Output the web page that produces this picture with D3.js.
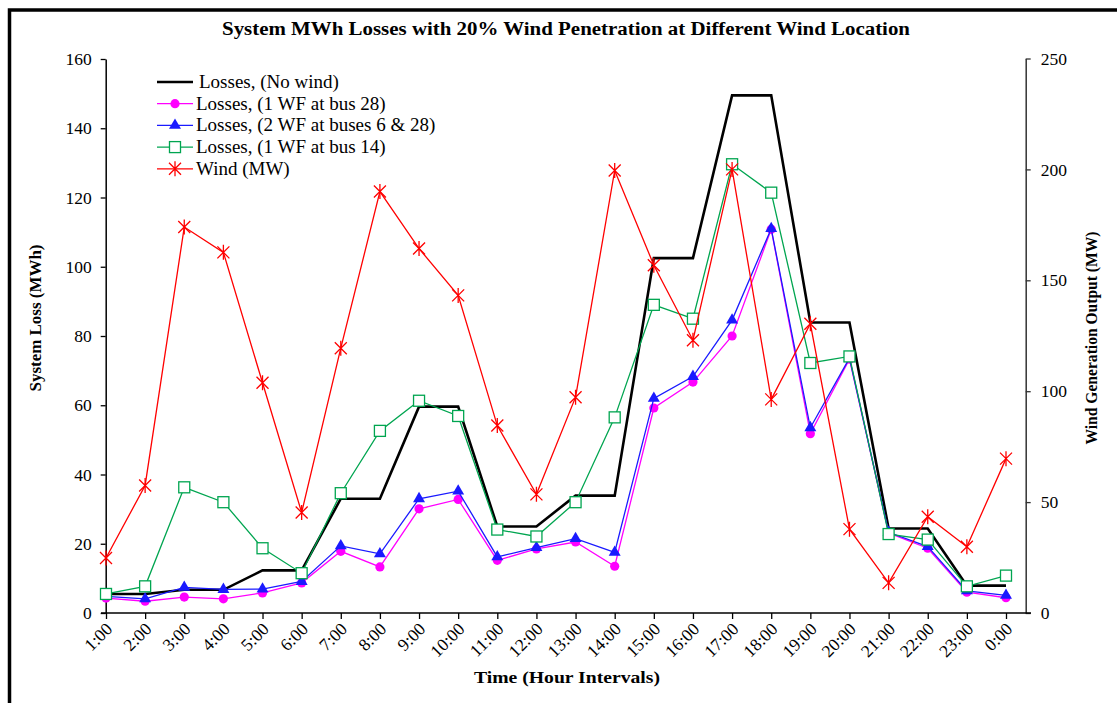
<!DOCTYPE html>
<html>
<head>
<meta charset="utf-8">
<script src="https://cdn.jsdelivr.net/npm/d3@7"></script>
<style>
  body { margin: 0; background: #fff; }
  svg { display: block; }
  text { font-family: "Liberation Serif", "Times New Roman", serif; }
</style>
</head>
<body>
<svg id="chart" width="1117" height="703"></svg>
<script>
// data
var hours = ["1:00","2:00","3:00","4:00","5:00","6:00","7:00","8:00","9:00","10:00","11:00","12:00",
             "13:00","14:00","15:00","16:00","17:00","18:00","19:00","20:00","21:00","22:00","23:00","0:00"];
var lossNoWind = [5.5,5.5,6.7,6.7,12.3,12.3,33,33,59.6,59.6,25,25,33.9,33.9,102.5,102.5,149.5,149.5,83.9,83.9,24.4,24.4,7.9,7.9];
var lossBus28  = [4.3,3.4,4.6,4.1,5.8,8.7,17.8,13.3,30.1,32.8,15.2,18.5,20.5,13.5,59.2,66.7,80,110.8,51.8,73.3,23.1,18.7,6,4.4];
var lossBus628 = [4.8,4.1,7.4,6.8,6.9,9.1,19.4,17.1,33,35.2,16.2,18.9,21.5,17.5,62,68.3,84.6,111,53.5,73.6,23.3,19.2,6.4,5.1];
var lossBus14  = [5.5,7.7,36.3,32,18.7,11.5,34.6,52.6,61.3,56.9,24.1,22.1,32,56.5,89,85,129.6,121.4,72.2,74.1,22.8,21.2,7.7,10.8];
var windMW     = [24.8,57.5,174,162.6,103.8,45.3,119.4,190,164.3,143.2,84.5,53.5,97.3,199.5,156.8,123,200,96.3,130.4,37.8,13.6,43.4,29.9,69.6];
var leftTicks  = [0,20,40,60,80,100,120,140,160];
var rightTicks = [0,50,100,150,200,250];

var svg = d3.select("#chart");

// outer frame (only left and top edges show)
svg.append("path").attr("d", "M9.5,703 L9.5,10 L1117,10")
   .attr("fill", "none").attr("stroke", "#000").attr("stroke-width", 3.5);

var x = d3.scalePoint().domain(hours).range([106, 1006]);
var yL = d3.scaleLinear().domain([0, 160]).range([613, 59]);
var yR = d3.scaleLinear().domain([0, 250]).range([613, 58.5]);

// title
svg.append("text").attr("x", 566).attr("y", 35).attr("text-anchor", "middle")
   .attr("font-size", 18).attr("font-weight", "bold")
   .attr("textLength", 688).attr("lengthAdjust", "spacingAndGlyphs")
   .text("System MWh Losses with 20% Wind Penetration at Different Wind Location");

// left axis
var gL = svg.append("g").attr("transform", "translate(105.7,0)")
  .call(d3.axisLeft(yL).tickValues(leftTicks).tickSize(5).tickSizeOuter(0).tickPadding(9));
gL.select(".domain").attr("stroke", "#000").attr("stroke-width", 1.5);
gL.selectAll(".tick line").attr("stroke", "#000").attr("stroke-width", 1.3);
gL.selectAll(".tick text").attr("font-family", "Liberation Serif").attr("font-size", 17.5).attr("fill", "#000");

// right axis
var gR = svg.append("g").attr("transform", "translate(1025.7,0)")
  .call(d3.axisRight(yR).tickValues(rightTicks).tickSize(5).tickSizeOuter(0).tickPadding(10));
gR.select(".domain").attr("stroke", "#333").attr("stroke-width", 1.5);
gR.selectAll(".tick line").attr("stroke", "#333").attr("stroke-width", 1.3);
gR.selectAll(".tick text").attr("font-family", "Liberation Serif").attr("font-size", 17.5).attr("fill", "#000");

// bottom axis
svg.append("line").attr("x1", 101).attr("x2", 1031).attr("y1", 613).attr("y2", 613)
   .attr("stroke", "#000").attr("stroke-width", 1.6);
var gB = svg.append("g").attr("transform", "translate(0,613)")
  .call(d3.axisBottom(x).tickSize(6).tickSizeOuter(0));
gB.select(".domain").remove();
gB.selectAll(".tick line").attr("stroke", "#000").attr("stroke-width", 1.3);
gB.selectAll(".tick text")
  .attr("font-family", "Liberation Serif").attr("font-size", 17.5).attr("fill", "#000")
  .attr("text-anchor", "end").attr("dy", null).attr("y", 0)
  .attr("transform", "translate(7,17) rotate(-45)");

// axis titles
svg.append("text").attr("x", 567).attr("y", 683).attr("text-anchor", "middle")
   .attr("font-size", 16).attr("font-weight", "bold")
   .attr("textLength", 186).attr("lengthAdjust", "spacingAndGlyphs")
   .text("Time (Hour Intervals)");
svg.append("text").attr("transform", "translate(41,318) rotate(-90)").attr("text-anchor", "middle")
   .attr("font-size", 16).attr("font-weight", "bold")
   .attr("textLength", 147).attr("lengthAdjust", "spacingAndGlyphs")
   .text("System Loss (MWh)");
svg.append("text").attr("transform", "translate(1097,338) rotate(-90)").attr("text-anchor", "middle")
   .attr("font-size", 16).attr("font-weight", "bold")
   .attr("textLength", 213).attr("lengthAdjust", "spacingAndGlyphs")
   .text("Wind Generation Output (MW)");

// series
var series = [
  {name: "Losses, (No wind)",               vals: lossNoWind, axis: yL, color: "#000",    width: 2.6, marker: "none"},
  {name: "Losses, (1 WF at bus 28)",        vals: lossBus28,  axis: yL, color: "#ff00ff", width: 1.3, marker: "circle"},
  {name: "Losses, (2 WF at buses 6 & 28)",  vals: lossBus628, axis: yL, color: "#1a1aff", width: 1.3, marker: "triangle"},
  {name: "Losses, (1 WF at bus 14)",        vals: lossBus14,  axis: yL, color: "#00a550", width: 1.3, marker: "square"},
  {name: "Wind (MW)",                       vals: windMW,     axis: yR, color: "#ff0000", width: 1.3, marker: "star"}
];

function drawMarker(g, s) {
  if (s.marker == "circle") {
    g.append("circle").attr("r", 4.6).attr("fill", s.color);
  } else if (s.marker == "triangle") {
    g.append("path").attr("d", d3.symbol(d3.symbolTriangle, 62)()).attr("fill", s.color);
  } else if (s.marker == "square") {
    g.append("rect").attr("x", -5.5).attr("y", -5.5).attr("width", 11).attr("height", 11)
     .attr("fill", "#fff").attr("stroke", s.color).attr("stroke-width", 1.3);
  } else if (s.marker == "star") {
    g.append("path").attr("d", "M-6,-6L6,6M-6,6L6,-6M0,-7.5L0,7.5")
     .attr("stroke", s.color).attr("stroke-width", 1.3).attr("fill", "none");
  }
}

series.forEach(function(s) {
  var line = d3.line().x(function(d, i) { return x(hours[i]); }).y(function(d) { return s.axis(d); });
  svg.append("path").datum(s.vals).attr("d", line)
     .attr("fill", "none").attr("stroke", s.color).attr("stroke-width", s.width)
     .attr("stroke-linejoin", "miter");
  if (s.marker != "none") {
    s.vals.forEach(function(v, i) {
      var g = svg.append("g").attr("transform", "translate(" + x(hours[i]) + "," + s.axis(v) + ")");
      drawMarker(g, s);
    });
  }
});

// legend
var legend = svg.append("g").attr("transform", "translate(157,82)");
series.forEach(function(s, i) {
  var row = legend.append("g").attr("transform", "translate(0," + (i * 21.7) + ")");
  row.append("line").attr("x1", 0).attr("x2", 36).attr("stroke", s.color).attr("stroke-width", s.width);
  if (s.marker != "none") {
    var m = row.append("g").attr("transform", "translate(18,0)");
    drawMarker(m, s);
  }
  row.append("text").attr("x", i == 0 ? 42 : 39).attr("y", 6)
     .attr("font-size", 19).text(s.name);
});
</script>
</body>
</html>
